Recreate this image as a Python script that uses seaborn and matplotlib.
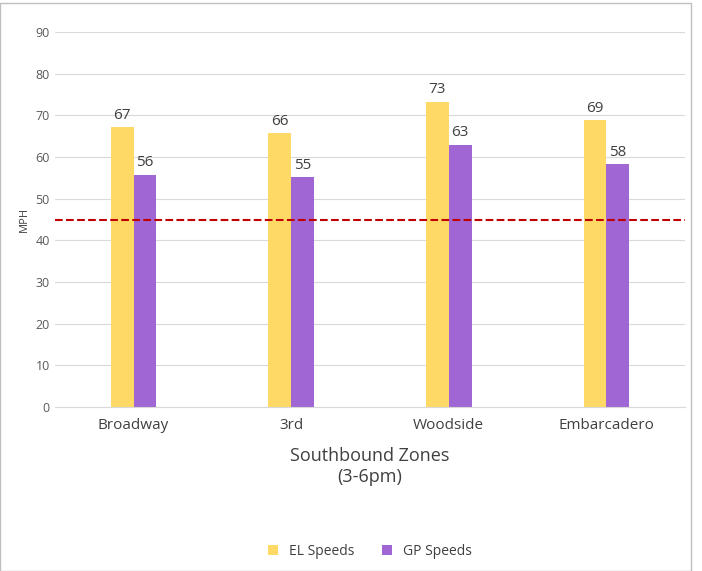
import matplotlib
matplotlib.use('Agg')
import matplotlib.pyplot as plt
import seaborn as sns
import pandas as pd

zones = ["Broadway", "3rd", "Woodside", "Embarcadero"]
el_speeds = [67.2, 65.8, 73.3, 68.8]
gp_speeds = [55.8, 55.1, 63.0, 58.3]
speed_limit = 45

df = pd.DataFrame({
    "zone": zones * 2,
    "speed": el_speeds + gp_speeds,
    "series": ["EL Speeds"] * len(zones) + ["GP Speeds"] * len(zones),
})

sns.set_style("white")
plt.rcParams['font.family'] = ['Open Sans', 'DejaVu Sans']

fig = plt.figure(figsize=(7.02, 5.71), dpi=100)
ax = fig.add_axes([0.078, 0.287, 0.898, 0.657])
sns.barplot(data=df, x="zone", y="speed", hue="series", ax=ax,
            palette={"EL Speeds": "#FFD966", "GP Speeds": "#A066D3"},
            width=0.29, saturation=1, linewidth=0, legend=True)

for cont in ax.containers:
    ax.bar_label(cont, labels=[f"{v:.0f}" for v in cont.datavalues],
                 padding=3, fontsize=11, color="#404040")

ax.axhline(speed_limit, color="#C00000", linestyle="--", linewidth=1.5, zorder=3)
ax.set_ylim(0, 90)
ax.set_yticks(range(0, 91, 10))
ax.grid(axis="y", color="#D9D9D9", linewidth=0.8)
ax.set_axisbelow(True)
for s in ["top", "right", "left"]:
    ax.spines[s].set_visible(False)
ax.spines["bottom"].set_color("#D9D9D9")
ax.tick_params(axis="y", labelsize=9, colors="#595959", length=0)
ax.tick_params(axis="x", labelsize=11, colors="#404040", length=0, pad=8)
ax.set_ylabel("MPH", fontsize=8, color="#404040")
ax.set_xlabel("Southbound Zones\n(3-6pm)", fontsize=13, color="#404040", labelpad=10)

ax.legend(loc="center", bbox_to_anchor=(0.5, -0.385), ncol=2, frameon=False,
          fontsize=10, handlelength=0.7, handleheight=0.7, labelcolor="#404040")

fig.patches.append(plt.Rectangle((0, 0), 0.985, 0.995, transform=fig.transFigure,
                                 fill=False, edgecolor="#BFBFBF", linewidth=1))
fig.savefig("out.png", dpi=100)
